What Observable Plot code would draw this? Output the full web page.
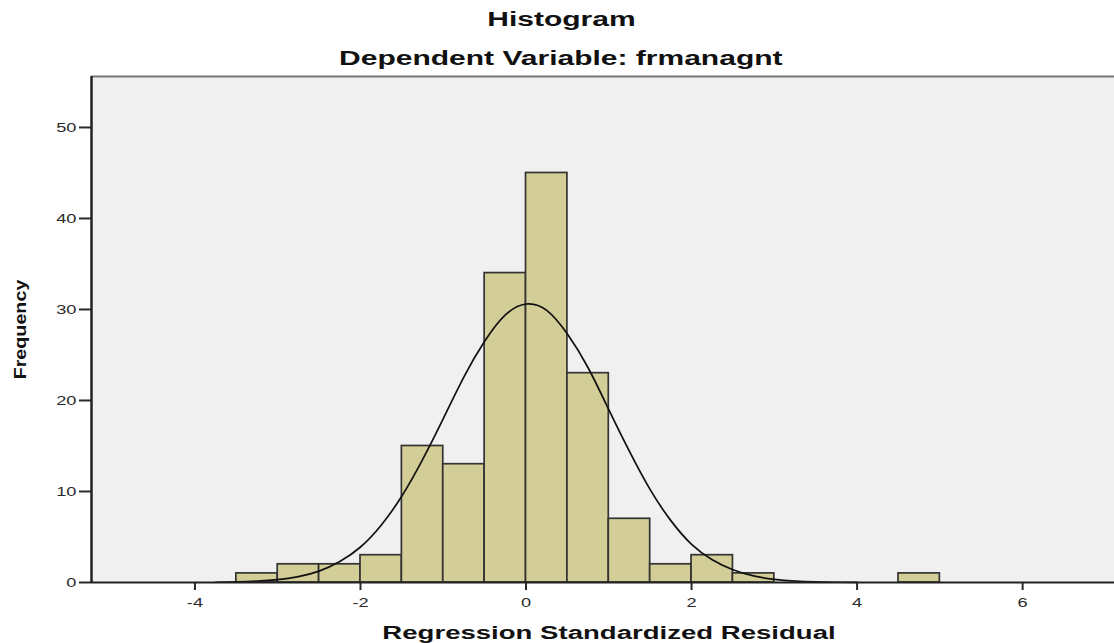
<!DOCTYPE html>
<html>
<head>
<meta charset="utf-8">
<script src="https://cdn.jsdelivr.net/npm/d3@7"></script>
<script src="https://cdn.jsdelivr.net/npm/@observablehq/plot@0.6"></script>
<style>
  html, body { margin: 0; padding: 0; background: #ffffff; }
  body { width: 1114px; height: 643px; position: relative; overflow: hidden; font-family: "Liberation Sans", Arial, sans-serif; }
  .ttl { position: absolute; left: 4px; width: 1114px; text-align: center; font-weight: bold; font-size: 20px; line-height: 20px; color: #111; }
  .ttl span { display: inline-block; transform: scaleX(1.5); transform-origin: 50% 50%; }
  #chart { position: absolute; left: 0; top: 70px; }
  #chart g[aria-label$="tick"] path, #chart g[aria-label$="tick"], #chart .tick line { stroke-width: 2px; }
</style>
</head>
<body>
<div class="ttl" style="top:9px"><span>Histogram</span></div>
<div class="ttl" style="top:48px"><span>Dependent Variable: frmanagnt</span></div>
<div id="chart"></div>
<script>
// Histogram bins (lower edge, upper edge) and frequencies
const binLo  = [-3.5, -3.0, -2.5, -2.0, -1.5, -1.0, -0.5, 0.0, 0.5, 1.0, 1.5, 2.0, 2.5, 4.5];
const binHi  = [-3.0, -2.5, -2.0, -1.5, -1.0, -0.5, 0.0, 0.5, 1.0, 1.5, 2.0, 2.5, 3.0, 5.0];
const counts = [1, 2, 2, 3, 15, 13, 34, 45, 23, 7, 2, 3, 1, 1];

// Normal curve overlay
const curveX = [-3.75, -3.5, -3.25, -3.0, -2.75, -2.5, -2.25, -2.0, -1.75, -1.5, -1.25, -1.0, -0.75, -0.5, -0.25, 0.0,
                 0.25, 0.5, 0.75, 1.0, 1.25, 1.5, 1.75, 2.0, 2.25, 2.5, 2.75, 3.0, 3.25, 3.5, 3.75, 4.0];
const curveY = [0.03, 0.07, 0.15, 0.32, 0.65, 1.25, 2.3, 3.9, 6.3, 9.5, 13.5, 18.0, 22.6, 26.5, 29.4, 30.6,
                29.9, 27.3, 23.6, 19.0, 14.4, 10.2, 6.8, 4.2, 2.5, 1.4, 0.72, 0.35, 0.16, 0.07, 0.03, 0.01];

// Axes
const xDomain = [-5.25, 7.11];
const yDomain = [0, 55.6];
const xTicks = [-4, -2, 0, 2, 4, 6];
const yTicks = [0, 10, 20, 30, 40, 50];
const xTitle = "Regression Standardized Residual";
const yTitle = "Frequency";

const bins = binLo.map((lo, i) => ({lo, hi: binHi[i], n: counts[i]}));
const curve = curveX.map((x, i) => ({x, y: curveY[i]}));

const chart = Plot.plot({
  width: 1114,
  height: 573,
  marginTop: 6,
  marginBottom: 61,
  marginLeft: 91,
  marginRight: 0,
  style: {fontFamily: "Liberation Sans, Arial, sans-serif", fontSize: "13.5px", color: "#2a2a2a", background: "transparent"},
  x: {domain: xDomain, ticks: xTicks, tickSize: 8, tickPadding: 7, tickFormat: d => String(d), label: null},
  y: {domain: yDomain, ticks: yTicks, tickSize: 12, tickPadding: 3, tickFormat: d => String(d), label: null},
  marks: [
    Plot.frame({fill: "#f0f0f0", stroke: null}),
    Plot.rect(bins, {x1: "lo", x2: "hi", y1: d => 0, y2: "n", fill: "#d3ce97", stroke: "#333333", strokeWidth: 1.7}),
    Plot.line(curve, {x: "x", y: "y", curve: "natural", stroke: "#111111", strokeWidth: 1.7}),
    Plot.ruleY([yDomain[1]], {stroke: "#777777", strokeWidth: 2}),
    Plot.ruleY([0], {stroke: "#222222", strokeWidth: 2}),
    Plot.ruleX([xDomain[0]], {stroke: "#222222", strokeWidth: 2.5}),
    Plot.text([xTitle], {frameAnchor: "bottom", dx: 6, dy: 56, lineAnchor: "bottom", fontWeight: "bold", fontSize: 18.5, fill: "#111111"}),
    Plot.text([yTitle], {frameAnchor: "left", textAnchor: "middle", dx: -71, rotate: -90, fontWeight: "bold", fontSize: 17, fill: "#111111"})
  ]
});

document.getElementById("chart").appendChild(chart);

// The reference picture is horizontally stretched; stretch text the same way around its anchor
const svg = chart.tagName.toLowerCase() === "svg" ? chart : chart.querySelector("svg");
svg.querySelectorAll("text").forEach(t => {
  const txt = t.textContent;
  let sx = 1.35;
  if (txt === xTitle) sx = 1.49;
  else if (txt === yTitle) sx = 1.16;
  const xa = t.getAttribute("x");
  const x = (xa != null && /^-?[\d.]+$/.test(xa)) ? +xa : 0;
  const tr = t.getAttribute("transform") || "";
  t.setAttribute("transform", `${tr} translate(${x},0) scale(${sx},1) translate(${-x},0)`.trim());
});
</script>
</body>
</html>
